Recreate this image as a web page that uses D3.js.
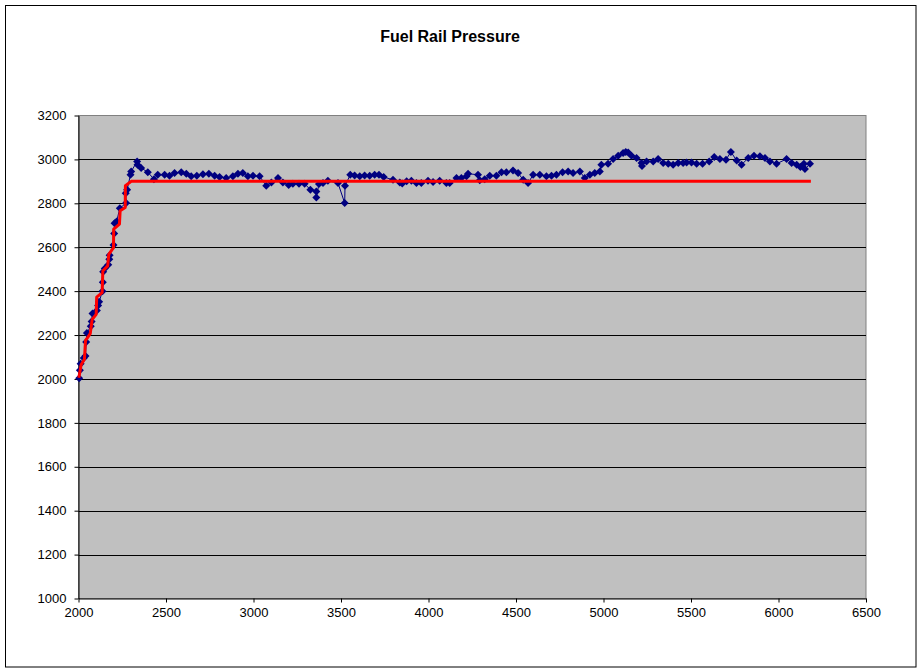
<!DOCTYPE html>
<html>
<head>
<meta charset="utf-8">
<script src="https://cdn.jsdelivr.net/npm/d3@7"></script>
<style>
  html, body { margin: 0; padding: 0; background: #fff; }
  svg { display: block; font-family: Arial, "Liberation Sans", sans-serif; }
</style>
</head>
<body>
<script>
const chartTitle = "Fuel Rail Pressure";
const xTicks = [2000, 2500, 3000, 3500, 4000, 4500, 5000, 5500, 6000, 6500];
const yTicks = [1000, 1200, 1400, 1600, 1800, 2000, 2200, 2400, 2600, 2800, 3000, 3200];

// Measured fuel rail pressure (rpm, pressure)
const actualRpm = [
  2004, 2008, 2012, 2030, 2040, 2044, 2048, 2070, 2075, 2080,
  2105, 2112, 2118, 2137, 2139, 2141, 2150, 2170, 2176, 2178,
  2200, 2204, 2206, 2218, 2236, 2272, 2270, 2278, 2297, 2301,
  2335, 2337, 2358, 2396, 2431, 2453, 2492, 2520, 2549, 2587,
  2616, 2644, 2676, 2711, 2745, 2778, 2806, 2844, 2882, 2911,
  2939, 2968, 2997, 3035, 3073, 3102, 3140, 3168, 3201, 3225,
  3260, 3292, 3325, 3359, 3359, 3374, 3397, 3425, 3483, 3521,
  3523, 3553, 3578, 3607, 3635, 3664, 3692, 3717, 3744, 3797,
  3836, 3850, 3875, 3902, 3931, 3959, 3997, 4026, 4064, 4102,
  4121, 4160, 4188, 4217, 4226, 4283, 4293, 4321, 4350, 4388,
  4417, 4445, 4483, 4512, 4541, 4569, 4598, 4636, 4674, 4703,
  4731, 4766, 4798, 4826, 4865, 4893, 4922, 4950, 4979, 4988,
  5026, 5055, 5084, 5112, 5127, 5141, 5160, 5189, 5217, 5220,
  5246, 5284, 5312, 5341, 5370, 5398, 5427, 5455, 5475, 5503,
  5532, 5566, 5604, 5633, 5665, 5700, 5728, 5761, 5789, 5827,
  5860, 5894, 5923, 5951, 5989, 6046, 6075, 6104, 6125, 6145,
  6151, 6180
];
const actualPressure = [
  2003, 2040, 2069, 2095, 2105, 2168, 2209, 2240, 2262, 2298,
  2312, 2335, 2352, 2400, 2440, 2488, 2503, 2520, 2545, 2564,
  2610, 2663, 2709, 2717, 2778, 2801, 2846, 2862, 2930, 2945,
  2991, 2976, 2961, 2942, 2910, 2930, 2930, 2926, 2938, 2941,
  2935, 2923, 2926, 2932, 2935, 2926, 2920, 2915, 2923, 2935,
  2938, 2923, 2926, 2923, 2880, 2895, 2915, 2895, 2884, 2889,
  2889, 2889, 2862, 2854, 2826, 2888, 2892, 2903, 2892, 2801,
  2880, 2930, 2927, 2923, 2927, 2926, 2930, 2930, 2920, 2907,
  2895, 2890, 2900, 2903, 2892, 2892, 2903, 2897, 2903, 2892,
  2892, 2915, 2915, 2923, 2935, 2930, 2905, 2910, 2926, 2926,
  2941, 2941, 2950, 2938, 2907, 2892, 2930, 2930, 2923, 2926,
  2930, 2941, 2945, 2938, 2945, 2915, 2930, 2938, 2945, 2976,
  2980, 3002, 3017, 3029, 3034, 3032, 3017, 3006, 2984, 2970,
  2991, 2991, 3002, 2984, 2980, 2976, 2984, 2984, 2986, 2986,
  2980, 2980, 2991, 3011, 3002, 2999, 3034, 2995, 2976, 3006,
  3017, 3014, 3006, 2991, 2980, 3002, 2984, 2976, 2965, 2980,
  2956, 2980
];

// Target fuel rail pressure (rpm, pressure)
const targetRpm = [2002, 2015, 2034, 2040, 2067, 2078, 2101, 2104, 2135, 2139,
  2167, 2173, 2200, 2201, 2234, 2238, 2267, 2268, 2301, 6185];
const targetPressure = [2005, 2065, 2090, 2175, 2206, 2271, 2294, 2373, 2393, 2492,
  2515, 2568, 2598, 2682, 2705, 2766, 2781, 2880, 2900, 2900];

const W = 920, H = 671;
const plot = { left: 78.5, right: 866, top: 115.5, bottom: 598.5 };

const svg = d3.select("body").append("svg").attr("width", W).attr("height", H);

svg.append("rect").attr("x", 0).attr("y", 0).attr("width", W).attr("height", H).attr("fill", "#fff");
svg.append("rect").attr("x", 5.5).attr("y", 5.5).attr("width", 910.5).attr("height", 661.5)
  .attr("fill", "none").attr("stroke", "#000").attr("stroke-width", 1);

svg.append("text").attr("x", 450).attr("y", 42).attr("text-anchor", "middle")
  .attr("font-size", 16).attr("font-weight", "bold").text(chartTitle);

const x = d3.scaleLinear().domain([2000, 6500]).range([plot.left, plot.right]);
const y = d3.scaleLinear().domain([1000, 3200]).range([plot.bottom, plot.top]);

svg.append("rect").attr("x", plot.left).attr("y", plot.top)
  .attr("width", plot.right - plot.left).attr("height", plot.bottom - plot.top)
  .attr("fill", "#C0C0C0").attr("stroke", "#808080").attr("stroke-width", 1);

// gridlines
svg.append("g").selectAll("line").data(yTicks.filter(v => v > 1000 && v < 3200)).join("line")
  .attr("x1", plot.left).attr("x2", plot.right)
  .attr("y1", d => Math.round(y(d)) + 0.5).attr("y2", d => Math.round(y(d)) + 0.5)
  .attr("stroke", "#000").attr("stroke-width", 1);

// axes
const xAxis = d3.axisBottom(x).tickValues(xTicks).tickFormat(d3.format("d")).tickSizeInner(4).tickSizeOuter(0).tickPadding(5);
const gx = svg.append("g").attr("transform", `translate(0,${plot.bottom})`).call(xAxis);
gx.selectAll("text").attr("font-size", 13).attr("font-family", "Arial, 'Liberation Sans', sans-serif").attr("fill", "#000");
gx.selectAll("line, path").attr("stroke", "#000");

const yAxis = d3.axisLeft(y).tickValues(yTicks).tickFormat(d3.format("d")).tickSizeInner(4).tickSizeOuter(0).tickPadding(8);
const gy = svg.append("g").attr("transform", `translate(${plot.left},0)`).call(yAxis);
gy.selectAll("text").attr("font-size", 13).attr("font-family", "Arial, 'Liberation Sans', sans-serif").attr("fill", "#000");
gy.selectAll("line, path").attr("stroke", "#000");

const actual = actualRpm.map((r, i) => [r, actualPressure[i]]);
const target = targetRpm.map((r, i) => [r, targetPressure[i]]);

const line = d3.line().x(d => x(d[0])).y(d => y(d[1]));

svg.append("path").datum(actual).attr("d", line)
  .attr("fill", "none").attr("stroke", "#000080").attr("stroke-width", 1);

svg.append("g").selectAll("path").data(actual).join("path")
  .attr("d", "M0,-4L4,0L0,4L-4,0Z")
  .attr("transform", d => `translate(${x(d[0])},${y(d[1])})`)
  .attr("fill", "#000080");

svg.append("path").datum(target).attr("d", line)
  .attr("fill", "none").attr("stroke", "#FF0000").attr("stroke-width", 3)
  .attr("stroke-linejoin", "round");
</script>
</body>
</html>
